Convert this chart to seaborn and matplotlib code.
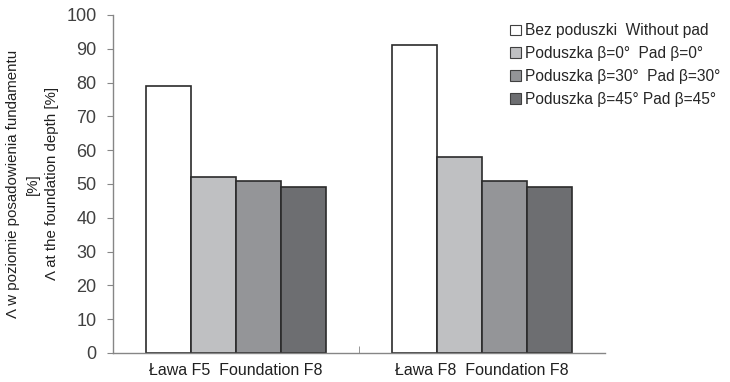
import matplotlib
matplotlib.use('Agg')
import matplotlib.pyplot as plt
import seaborn as sns
import pandas as pd

categories = ['Ława F5  Foundation F8', 'Ława F8  Foundation F8']
series = ['Bez poduszki  Without pad',
          'Poduszka β=0°  Pad β=0°',
          'Poduszka β=30°  Pad β=30°',
          'Poduszka β=45° Pad β=45°']
values = {
    series[0]: [79, 91],
    series[1]: [52, 58],
    series[2]: [51, 51],
    series[3]: [49, 49],
}
colors = ['#ffffff', '#bfc0c2', '#949598', '#6d6e71']

rows = []
for s in series:
    for c, v in zip(categories, values[s]):
        rows.append({'cat': c, 'series': s, 'value': v})
df = pd.DataFrame(rows)

sns.set_style('white')
plt.rcParams['font.family'] = ['Liberation Sans', 'DejaVu Sans']

fig = plt.figure(figsize=(7.3, 3.82), dpi=100)
ax = fig.add_axes([0.155, 0.076, 0.674, 0.885])

sns.barplot(data=df, x='cat', y='value', hue='series', palette=colors,
            width=0.73, edgecolor='#2b2b2b', linewidth=1.2, ax=ax,
            saturation=1, legend=True)

ax.set_ylim(0, 100)
ax.set_xlim(-0.5, 1.5)
ax.set_yticks(range(0, 101, 10))
ax.tick_params(axis='y', labelsize=13, labelcolor='#404040', length=4,
               direction='out', left=True, color='#868686', pad=8)
ax.tick_params(axis='x', labelsize=11.5, colors='#202020', length=0, pad=7)
ax.set_xticks([0.5], minor=True)
ax.tick_params(axis='x', which='minor', length=5, direction='in',
               bottom=True, color='#868686')
for sp in ['top', 'right']:
    ax.spines[sp].set_visible(False)
for sp in ['left', 'bottom']:
    ax.spines[sp].set_color('#868686')
    ax.spines[sp].set_linewidth(1)

ax.set_xlabel('')
ax.set_ylabel('Λ w poziomie posadowienia fundamentu\n[%]\nΛ at the foundation depth [%]',
              fontsize=10.8, color='#202020', labelpad=5, linespacing=1.5)

handles, labels = ax.get_legend_handles_labels()
ax.get_legend().remove()
leg = fig.legend(handles, labels, loc='upper left', bbox_to_anchor=(0.69, 0.955),
                 frameon=False, fontsize=11.2, handlelength=0.7, handleheight=0.7,
                 handletextpad=0.3, labelspacing=0.5, borderaxespad=0)
for h in leg.legend_handles:
    h.set_linewidth(0.8)
    h.set_edgecolor('#404040')

fig.savefig('out.png', dpi=100)
